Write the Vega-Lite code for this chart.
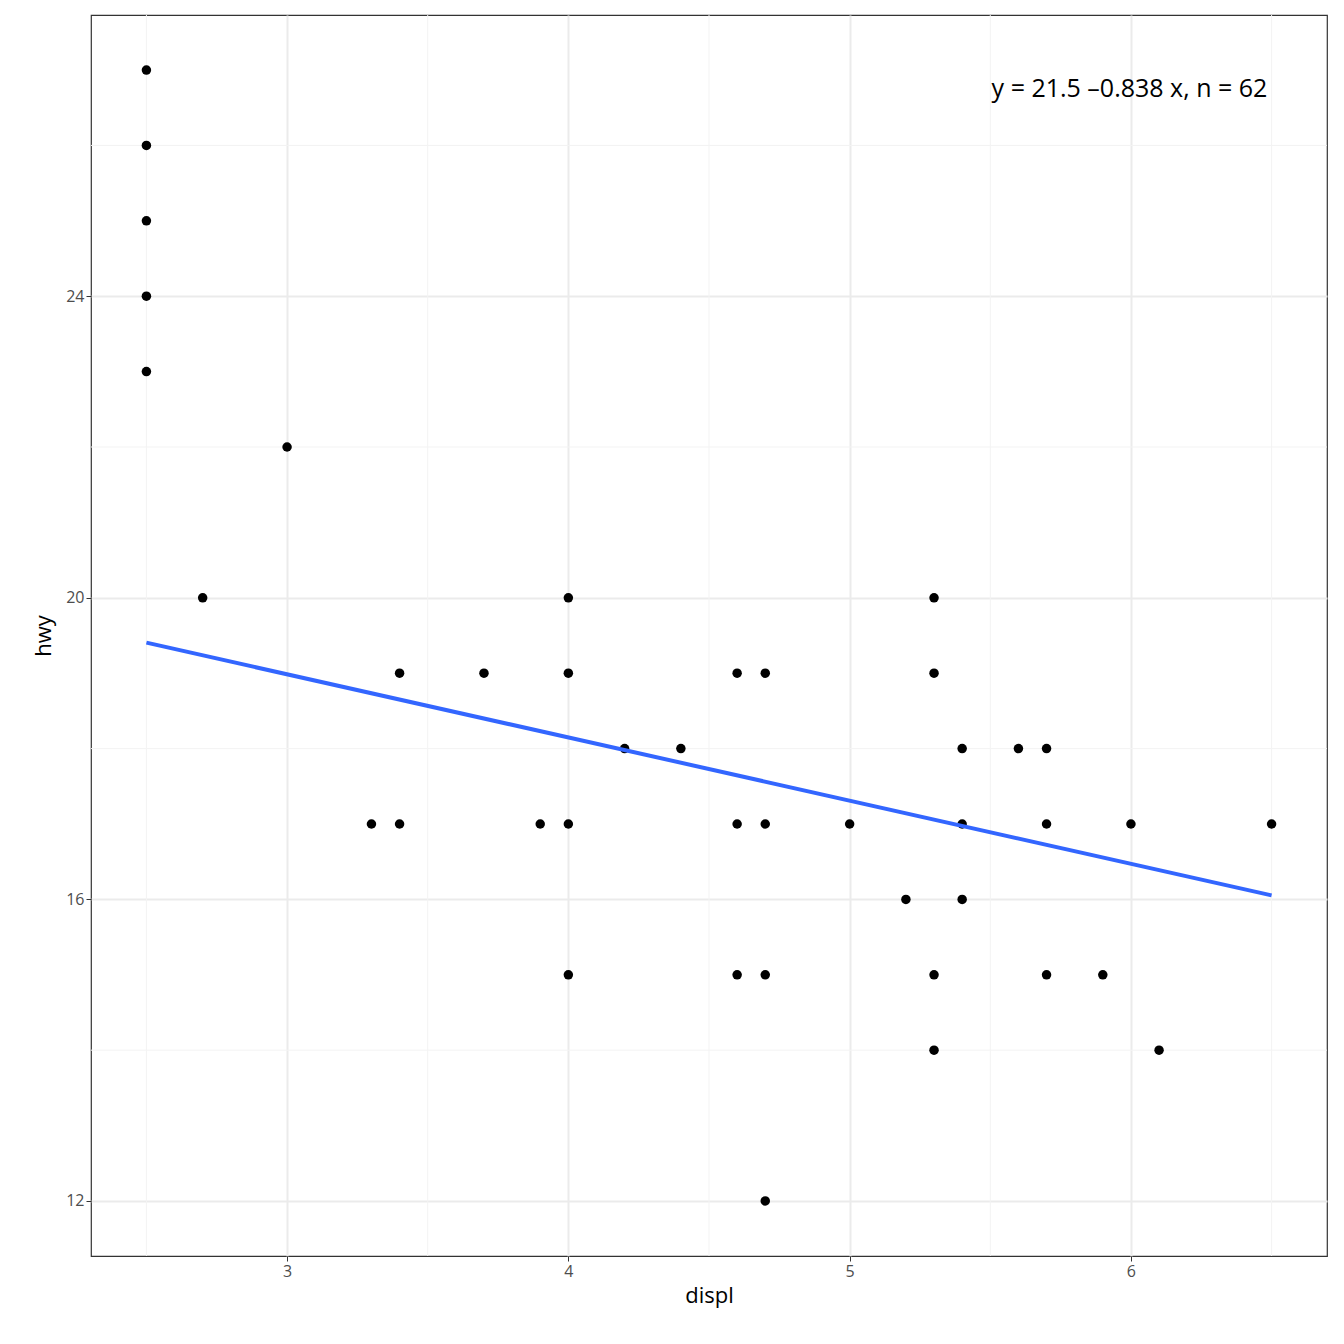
{
  "$schema": "https://vega.github.io/schema/vega-lite/v6.json",
  "width": 1236,
  "height": 1241,
  "autosize": {"type": "none"},
  "padding": {"left": 91, "top": 15, "right": 17, "bottom": 88},
  "background": "white",
  "config": {
    "font": "Open Sans",
    "view": {"stroke": "#333333", "strokeWidth": 1.2}
  },
  "datasets": {
    "pts": [
      {"displ": 2.5, "hwy": 27}, {"displ": 2.5, "hwy": 26}, {"displ": 2.5, "hwy": 25}, {"displ": 2.5, "hwy": 24}, {"displ": 2.5, "hwy": 23},
      {"displ": 2.7, "hwy": 20}, {"displ": 3.0, "hwy": 22}, {"displ": 3.3, "hwy": 17},
      {"displ": 3.4, "hwy": 19}, {"displ": 3.4, "hwy": 17}, {"displ": 3.7, "hwy": 19}, {"displ": 3.9, "hwy": 17},
      {"displ": 4.0, "hwy": 20}, {"displ": 4.0, "hwy": 19}, {"displ": 4.0, "hwy": 17}, {"displ": 4.0, "hwy": 15},
      {"displ": 4.2, "hwy": 18}, {"displ": 4.4, "hwy": 18},
      {"displ": 4.6, "hwy": 19}, {"displ": 4.6, "hwy": 17}, {"displ": 4.6, "hwy": 15},
      {"displ": 4.7, "hwy": 19}, {"displ": 4.7, "hwy": 17}, {"displ": 4.7, "hwy": 15}, {"displ": 4.7, "hwy": 12},
      {"displ": 5.0, "hwy": 17}, {"displ": 5.2, "hwy": 16},
      {"displ": 5.3, "hwy": 20}, {"displ": 5.3, "hwy": 19}, {"displ": 5.3, "hwy": 15}, {"displ": 5.3, "hwy": 14},
      {"displ": 5.4, "hwy": 18}, {"displ": 5.4, "hwy": 17}, {"displ": 5.4, "hwy": 16},
      {"displ": 5.6, "hwy": 18}, {"displ": 5.7, "hwy": 18}, {"displ": 5.7, "hwy": 17}, {"displ": 5.7, "hwy": 15},
      {"displ": 5.9, "hwy": 15}, {"displ": 6.0, "hwy": 17}, {"displ": 6.1, "hwy": 14}, {"displ": 6.5, "hwy": 17}
    ],
    "fit": [{"displ": 2.5, "hwy": 19.405}, {"displ": 6.5, "hwy": 16.053}],
    "minx": [{"v": 2.5}, {"v": 3.5}, {"v": 4.5}, {"v": 5.5}, {"v": 6.5}],
    "miny": [{"v": 14}, {"v": 18}, {"v": 22}, {"v": 26}],
    "lab": [{"displ": 6.485, "hwy": 26.75, "t": "y = 21.5 –0.838 x, n = 62"}]
  },
  "layer": [
    {
      "data": {"name": "minx"},
      "mark": {"type": "rule", "color": "#f3f3f3", "strokeWidth": 1},
      "encoding": {"x": {"field": "v", "type": "quantitative", "scale": {"domain": [2.303, 6.697], "nice": false, "zero": false}}}
    },
    {
      "data": {"name": "miny"},
      "mark": {"type": "rule", "color": "#f3f3f3", "strokeWidth": 1},
      "encoding": {"y": {"field": "v", "type": "quantitative", "scale": {"domain": [11.27, 27.73], "nice": false, "zero": false}}}
    },
    {
      "data": {"name": "pts"},
      "mark": {"type": "circle", "color": "black", "opacity": 1, "size": 90},
      "encoding": {
        "x": {"field": "displ", "type": "quantitative", "title": "displ",
          "scale": {"domain": [2.303, 6.697], "nice": false, "zero": false},
          "axis": {"values": [3, 4, 5, 6], "format": "d", "titlePadding": 6, "domain": false,
            "labelFontSize": 16, "labelColor": "#4d4d4d", "labelFont": "Open Sans",
            "titleFontSize": 22, "titleFontWeight": "normal", "titleColor": "black", "titleFont": "Open Sans",
            "tickColor": "#333333", "tickSize": 5, "gridColor": "#ebebeb", "gridWidth": 2}},
        "y": {"field": "hwy", "type": "quantitative", "title": "hwy",
          "scale": {"domain": [11.27, 27.73], "nice": false, "zero": false},
          "axis": {"values": [12, 16, 20, 24], "format": "d", "titlePadding": 10, "domain": false,
            "labelFontSize": 16, "labelColor": "#4d4d4d", "labelFont": "Open Sans",
            "titleFontSize": 22, "titleFontWeight": "normal", "titleColor": "black", "titleFont": "Open Sans",
            "tickColor": "#333333", "tickSize": 5, "gridColor": "#ebebeb", "gridWidth": 2}}
      }
    },
    {
      "data": {"name": "fit"},
      "mark": {"type": "line", "color": "#3366FF", "strokeWidth": 4},
      "encoding": {
        "x": {"field": "displ", "type": "quantitative"},
        "y": {"field": "hwy", "type": "quantitative"}
      }
    },
    {
      "data": {"name": "lab"},
      "mark": {"type": "text", "align": "right", "baseline": "middle", "fontSize": 25, "font": "Open Sans", "color": "black"},
      "encoding": {
        "x": {"field": "displ", "type": "quantitative"},
        "y": {"field": "hwy", "type": "quantitative"},
        "text": {"field": "t"}
      }
    }
  ]
}
